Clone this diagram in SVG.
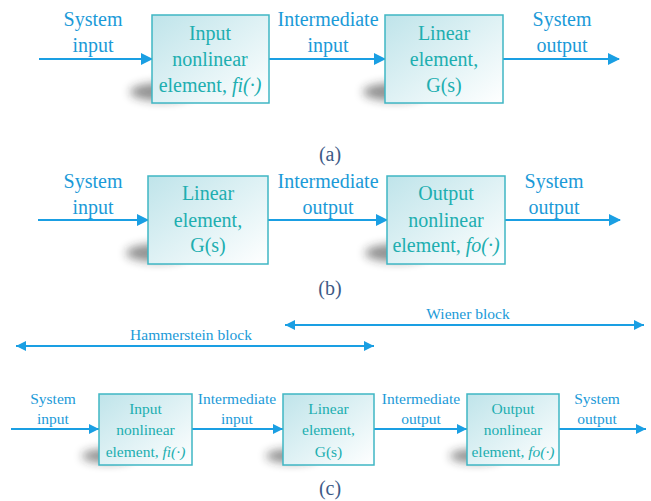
<svg xmlns="http://www.w3.org/2000/svg" width="651" height="501" viewBox="0 0 651 501">
<style>
.lbl{font-family:"Liberation Serif","Times New Roman",serif;fill:#1b9ad8;text-anchor:middle}
.bt{font-family:"Liberation Serif","Times New Roman",serif;fill:#20aeb0;text-anchor:middle}
.big{font-size:20px}
.sm{font-size:15.5px}
.cap{font-family:"Liberation Serif","Times New Roman",serif;fill:#3d5a86;text-anchor:middle;font-size:20px}
.box{fill:url(#g);stroke:#3fb6c4;stroke-width:1.5}
.shd{fill:#222;opacity:0.5;filter:url(#blur)}
.ln{stroke:#1a9fe3;stroke-width:2;fill:none}
.it{font-style:italic}
</style>
<defs>
<linearGradient id="g" x1="0" y1="0" x2="1" y2="1">
<stop offset="0" stop-color="#bfe4ea"/>
<stop offset="1" stop-color="#ffffff"/>
</linearGradient>
<filter id="blur" x="-50%" y="-100%" width="200%" height="300%"><feGaussianBlur stdDeviation="5"/></filter>
<marker id="ah" markerWidth="12" markerHeight="12" refX="11" refY="6" orient="auto" markerUnits="userSpaceOnUse">
<path d="M0,0 L12,6 L0,12 Z" fill="#1a9fe3"/>
</marker>
<marker id="ahs" markerWidth="10" markerHeight="10" refX="10" refY="5" orient="auto-start-reverse" markerUnits="userSpaceOnUse">
<path d="M0,0 L10,5 L0,10 Z" fill="#1a9fe3"/>
</marker>
</defs>

<g id="connectors">
<line class="ln" x1="39" y1="59" x2="152" y2="59" marker-end="url(#ah)"/>
<line class="ln" x1="269" y1="59" x2="385" y2="59" marker-end="url(#ah)"/>
<line class="ln" x1="503" y1="59" x2="619" y2="59" marker-end="url(#ah)"/>
<line class="ln" x1="38" y1="220" x2="148" y2="220" marker-end="url(#ah)"/>
<line class="ln" x1="268" y1="220" x2="387" y2="220" marker-end="url(#ah)"/>
<line class="ln" x1="505" y1="220" x2="620" y2="220" marker-end="url(#ah)"/>
<line class="ln" x1="16" y1="346" x2="374" y2="346" stroke-width="1.5" marker-start="url(#ahs)" marker-end="url(#ahs)"/>
<line class="ln" x1="285" y1="325" x2="644" y2="325" stroke-width="1.5" marker-start="url(#ahs)" marker-end="url(#ahs)"/>
<line class="ln" x1="11" y1="429" x2="99" y2="429" stroke-width="1.5" marker-end="url(#ahs)"/>
<line class="ln" x1="192" y1="429" x2="283" y2="429" stroke-width="1.5" marker-end="url(#ahs)"/>
<line class="ln" x1="374" y1="429" x2="467" y2="429" stroke-width="1.5" marker-end="url(#ahs)"/>
<line class="ln" x1="559" y1="429" x2="646" y2="429" stroke-width="1.5" marker-end="url(#ahs)"/>
</g>

<g id="labels">
<text class="lbl big" x="93" y="26">System</text>
<text class="lbl big" x="93" y="52">input</text>
<text class="lbl big" x="328" y="26">Intermediate</text>
<text class="lbl big" x="328" y="52">input</text>
<text class="lbl big" x="562" y="26">System</text>
<text class="lbl big" x="562" y="52">output</text>
<text class="cap" x="330" y="161">(a)</text>

<text class="lbl big" x="93" y="188">System</text>
<text class="lbl big" x="93" y="214">input</text>
<text class="lbl big" x="328" y="188">Intermediate</text>
<text class="lbl big" x="328" y="214">output</text>
<text class="lbl big" x="554" y="188">System</text>
<text class="lbl big" x="554" y="214">output</text>
<text class="cap" x="330" y="295">(b)</text>

<text class="lbl sm" x="191" y="340">Hammerstein block</text>
<text class="lbl sm" x="468" y="319">Wiener block</text>
<text class="lbl sm" x="53" y="404">System</text>
<text class="lbl sm" x="53" y="424">input</text>
<text class="lbl sm" x="237" y="404">Intermediate</text>
<text class="lbl sm" x="237" y="424">input</text>
<text class="lbl sm" x="421" y="404">Intermediate</text>
<text class="lbl sm" x="421" y="424">output</text>
<text class="lbl sm" x="597" y="404">System</text>
<text class="lbl sm" x="597" y="424">output</text>
<text class="cap" x="330" y="495">(c)</text>
</g>

<g id="a-input-nonlinear">
<ellipse class="shd" cx="162" cy="92" rx="32" ry="9"/>
<rect class="box" x="152" y="15" width="117" height="88"/>
<text class="bt big" x="210" y="40">Input</text>
<text class="bt big" x="210" y="66">nonlinear</text>
<text class="bt big" x="210" y="92">element, <tspan class="it">fi(·)</tspan></text>
</g>
<g id="a-linear">
<ellipse class="shd" cx="395" cy="92" rx="32" ry="9"/>
<rect class="box" x="385" y="15" width="118" height="88"/>
<text class="bt big" x="444" y="40">Linear</text>
<text class="bt big" x="444" y="66">element,</text>
<text class="bt big" x="444" y="92">G(s)</text>
</g>

<g id="b-linear">
<ellipse class="shd" cx="158" cy="253" rx="32" ry="9"/>
<rect class="box" x="148" y="176" width="120" height="88"/>
<text class="bt big" x="208" y="200">Linear</text>
<text class="bt big" x="208" y="227">element,</text>
<text class="bt big" x="208" y="252">G(s)</text>
</g>
<g id="b-output-nonlinear">
<ellipse class="shd" cx="397" cy="253" rx="32" ry="9"/>
<rect class="box" x="387" y="176" width="118" height="88"/>
<text class="bt big" x="446" y="200">Output</text>
<text class="bt big" x="446" y="227">nonlinear</text>
<text class="bt big" x="446" y="252">element, <tspan class="it">fo(·)</tspan></text>
</g>

<g id="c-input-nonlinear">
<ellipse class="shd" cx="108" cy="456" rx="26" ry="7"/>
<rect class="box" x="99" y="394" width="93" height="71"/>
<text class="bt sm" x="145.5" y="414">Input</text>
<text class="bt sm" x="145.5" y="435">nonlinear</text>
<text class="bt sm" x="145.5" y="457">element, <tspan class="it">fi(·)</tspan></text>
</g>
<g id="c-linear">
<ellipse class="shd" cx="292" cy="456" rx="26" ry="7"/>
<rect class="box" x="283" y="394" width="91" height="71"/>
<text class="bt sm" x="328.5" y="414">Linear</text>
<text class="bt sm" x="328.5" y="435">element,</text>
<text class="bt sm" x="328.5" y="457">G(s)</text>
</g>
<g id="c-output-nonlinear">
<ellipse class="shd" cx="476" cy="456" rx="26" ry="7"/>
<rect class="box" x="467" y="394" width="92" height="71"/>
<text class="bt sm" x="513" y="414">Output</text>
<text class="bt sm" x="513" y="435">nonlinear</text>
<text class="bt sm" x="513" y="457">element, <tspan class="it">fo(·)</tspan></text>
</g>
</svg>
